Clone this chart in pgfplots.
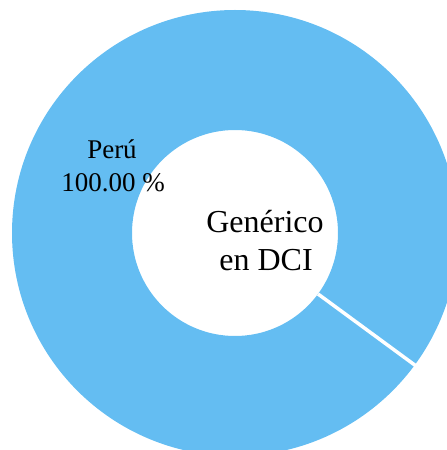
\documentclass[border=0pt]{standalone}
\usepackage{pgfplots}
\pgfplotsset{compat=1.18}
\usetikzlibrary{calc}
\usepackage{fontspec}
\setmainfont{Liberation Serif}
\definecolor{sliceBlue}{RGB}{100,189,242}

% one series: Perú = 100.00 % of "Genérico en DCI"
\def\valPeru{100.00}
\def\startAng{-36.3}

\begin{document}
\begin{tikzpicture}
\begin{axis}[
    x=1pt, y=1pt,
    xmin=0, xmax=447, ymin=-450, ymax=0,
    scale only axis, hide axis, clip=true,
]
% picture frame = axis box
\path (axis cs:0,-450) rectangle (axis cs:447,0);
\pgfmathsetmacro{\endAng}{\startAng+3.6*\valPeru}
% ring slice (overlay: it runs past the frame on the right and bottom)
\fill[sliceBlue, even odd rule, overlay]
    (axis cs:235,-233) circle[radius=223pt]
    (axis cs:235,-233) circle[radius=103pt];
% slice border (seam)
\draw[white, line width=3.5pt, overlay]
    ($(axis cs:235,-233)+(\startAng:103pt)$) -- ($(axis cs:235,-233)+(\startAng:226pt)$);
\node[anchor=base, font=\fontsize{27}{31}\selectfont] at (axis cs:112,-159) {Perú};
\node[anchor=base, font=\fontsize{27}{31}\selectfont] at (axis cs:113,-192) {100.00 \%};
\node[anchor=base, font=\fontsize{32}{37}\selectfont] at (axis cs:265,-233) {Genérico};
\node[anchor=base, font=\fontsize{32}{37}\selectfont] at (axis cs:266,-271) {en DCI};
\end{axis}
\end{tikzpicture}
\end{document}
